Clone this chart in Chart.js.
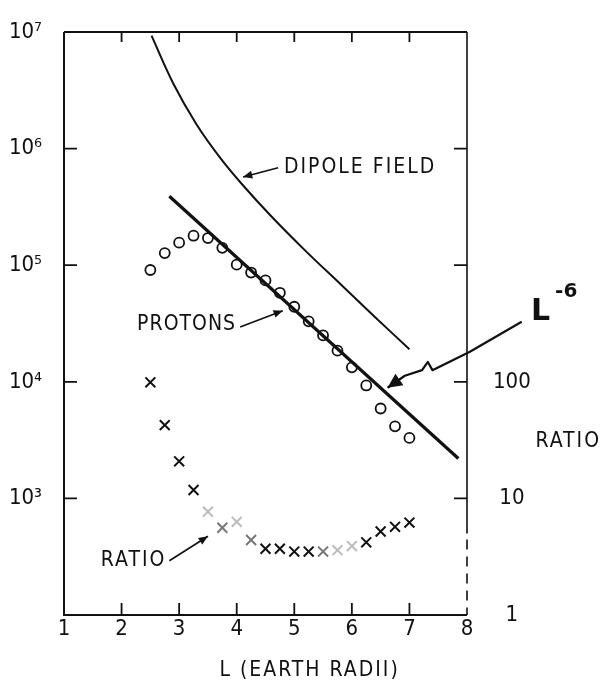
<!DOCTYPE html>
<html>
<head>
<meta charset="utf-8">
<script src="https://cdn.jsdelivr.net/npm/chart.js@4.4.1/dist/chart.umd.min.js"></script>
<style>
  html, body { margin: 0; padding: 0; background: #fff; }
</style>
</head>
<body>
<canvas id="grafico" width="608" height="688"></canvas>
<script>
// valores
const valoresL = [2.5, 2.75, 3, 3.25, 3.5, 3.75, 4, 4.25, 4.5, 4.75, 5, 5.25, 5.5, 5.75, 6, 6.25, 6.5, 6.75, 7];
const protons = [9.1e4, 1.27e5, 1.56e5, 1.79e5, 1.71e5, 1.41e5, 1.01e5, 8.65e4, 7.4e4, 5.8e4, 4.4e4, 3.3e4, 2.5e4, 1.85e4, 1.33e4, 9.3e3, 5.9e3, 4.15e3, 3.3e3];
const razao = [99, 42.5, 20.8, 11.8, 7.7, 5.6, 6.3, 4.4, 3.7, 3.7, 3.5, 3.5, 3.5, 3.6, 3.9, 4.2, 5.2, 5.7, 6.2];
const corRazao = ["#111", "#111", "#111", "#111", "#bbb", "#777", "#bbb", "#777", "#111", "#111", "#111", "#111", "#777", "#bbb", "#bbb", "#111", "#111", "#111", "#111"];

const dipoloL = [2.52, 2.9, 3.3, 3.7, 4.1, 4.6, 5.2, 5.8, 6.4, 7.0];
const dipolo = [9.3e6, 3.6e6, 1.62e6, 8.5e5, 4.9e5, 2.63e5, 1.32e5, 6.9e4, 3.6e4, 1.9e4];

const retaL = [2.83, 7.85];
const reta = [3.9e5, 2.2e3];

const ticksX = [1, 2, 3, 4, 5, 6, 7, 8];
const ticksEsq = [1e3, 1e4, 1e5, 1e6, 1e7];
const rotulosEsq = { 1000: "10\u00b3", 10000: "10\u2074", 100000: "10\u2075", 1000000: "10\u2076", 10000000: "10\u2077" };
const ticksDir = [1, 10, 100, 1e3, 1e4];
const rotulosDir = { 1: "1", 10: "10", 100: "100" };

const fonte = "'DejaVu Sans Condensed', 'Liberation Sans Narrow', 'DejaVu Sans', sans-serif";
const preto = "#111";

function pontos(xs, ys) {
  return xs.map((x, i) => ({ x: x, y: ys[i] }));
}

// moldura com marcas para dentro
const moldura = {
  id: "moldura",
  afterDraw(chart) {
    const { ctx, chartArea: a, scales } = chart;
    ctx.save();
    ctx.strokeStyle = preto;
    ctx.lineWidth = 2;
    ctx.beginPath();
    ctx.moveTo(a.left, a.top);
    ctx.lineTo(a.right, a.top);
    ctx.moveTo(a.left, a.top);
    ctx.lineTo(a.left, a.bottom);
    ctx.lineTo(a.right, a.bottom);
    ctx.stroke();

    // eixo direito, com falha perto da base
    const corte = scales.y2.getPixelForValue(5);
    ctx.lineWidth = 1.6;
    ctx.beginPath();
    ctx.moveTo(a.right, a.top);
    ctx.lineTo(a.right, corte);
    ctx.stroke();
    ctx.setLineDash([10, 7]);
    ctx.beginPath();
    ctx.moveTo(a.right, corte + 6);
    ctx.lineTo(a.right, a.bottom);
    ctx.stroke();
    ctx.setLineDash([]);

    ctx.lineWidth = 1.8;
    ctx.beginPath();
    ticksX.slice(1, -1).forEach((v) => {
      const px = scales.x.getPixelForValue(v);
      ctx.moveTo(px, a.top);
      ctx.lineTo(px, a.top + 10);
      ctx.moveTo(px, a.bottom);
      ctx.lineTo(px, a.bottom - 12);
    });
    ticksEsq.slice(0, -1).forEach((v) => {
      const py = scales.y.getPixelForValue(v);
      ctx.moveTo(a.left, py);
      ctx.lineTo(a.left + 13, py);
    });
    ticksDir.slice(1).forEach((v) => {
      const py = scales.y2.getPixelForValue(v);
      ctx.moveTo(a.right, py);
      ctx.lineTo(a.right - 13, py);
    });
    ctx.stroke();
    ctx.restore();
  },
};

// textos e setas, posicionados em unidades dos eixos (L, log10 do valor)
const notas = [
  { texto: "DIPOLE FIELD", L: 4.82, lg: 5.835 },
  { texto: "PROTONS", L: 2.27, lg: 4.49 },
  { texto: "RATIO", L: 1.64, lg: 2.47 },
  { texto: "RATIO", L: 9.19, lg: 3.49 },
  { texto: "L (EARTH RADII)", L: 3.7, lg: 1.52 },
];
const setas = [
  [[4.72, 5.835], [4.11, 5.757]],
  [[4.06, 4.47], [4.8, 4.61]],
  [[2.83, 2.465], [3.5, 2.675]],
  [[8.95, 4.515], [8.05, 4.258], [7.4, 4.1], [7.32, 4.17], [7.22, 4.1], [6.92, 4.052], [6.62, 3.949]],
];

const anotacoes = {
  id: "anotacoes",
  afterDraw(chart) {
    const { ctx, scales } = chart;
    const px = (L) => scales.x.getPixelForValue(L);
    const py = (lg) => scales.y.getPixelForValue(Math.pow(10, lg));
    ctx.save();
    ctx.fillStyle = preto;
    ctx.strokeStyle = preto;
    ctx.font = "21px " + fonte;
    ctx.textBaseline = "middle";
    ctx.textAlign = "left";
    notas.forEach((n) => {
      ctx.letterSpacing = n.texto === "PROTONS" ? "1px" : "2px";
      ctx.fillText(n.texto, px(n.L), py(n.lg));
    });

    setas.forEach((s, k) => {
      const p = s.map(([L, lg]) => [px(L), py(lg)]);
      ctx.lineWidth = k === 3 ? 2.2 : 1.6;
      ctx.lineJoin = "round";
      ctx.beginPath();
      ctx.moveTo(p[0][0], p[0][1]);
      p.slice(1).forEach(([x, y]) => ctx.lineTo(x, y));
      ctx.stroke();
      const [x1, y1] = p[p.length - 2];
      const [x2, y2] = p[p.length - 1];
      const ang = Math.atan2(y2 - y1, x2 - x1);
      const tam = k === 3 ? 16 : 10;
      const abre = k === 3 ? 0.45 : 0.4;
      ctx.beginPath();
      ctx.moveTo(x2, y2);
      ctx.lineTo(x2 - tam * Math.cos(ang - abre), y2 - tam * Math.sin(ang - abre));
      ctx.lineTo(x2 - tam * Math.cos(ang + abre), y2 - tam * Math.sin(ang + abre));
      ctx.closePath();
      ctx.fill();
    });

    // L^-6 escrito a mão
    ctx.letterSpacing = "0px";
    ctx.font = "bold 30px 'DejaVu Sans', sans-serif";
    ctx.fillText("L", px(9.11), py(4.6));
    ctx.font = "bold 20px 'DejaVu Sans', sans-serif";
    ctx.fillText("-6", px(9.53), py(4.77));
    ctx.restore();
  },
};

new Chart(document.getElementById("grafico"), {
  type: "scatter",
  data: {
    datasets: [
      {
        label: "Dipole field",
        data: pontos(dipoloL, dipolo),
        showLine: true,
        borderColor: preto,
        borderWidth: 2,
        pointRadius: 0,
        tension: 0.4,
        yAxisID: "y",
      },
      {
        label: "L^-6",
        data: pontos(retaL, reta),
        showLine: true,
        borderColor: preto,
        borderWidth: 3.2,
        pointRadius: 0,
        yAxisID: "y",
      },
      {
        label: "Protons",
        data: pontos(valoresL, protons),
        pointStyle: "circle",
        pointRadius: 5,
        pointBorderWidth: 1.8,
        borderColor: preto,
        backgroundColor: "rgba(0,0,0,0)",
        yAxisID: "y",
      },
      {
        label: "Ratio",
        data: pontos(valoresL, razao),
        pointStyle: "crossRot",
        pointRadius: 7,
        pointBorderWidth: 2,
        pointBorderColor: corRazao,
        borderColor: preto,
        yAxisID: "y2",
      },
    ],
  },
  options: {
    responsive: false,
    animation: false,
    devicePixelRatio: 1,
    layout: { padding: { top: 32, left: 0, right: 0, bottom: 0 } },
    plugins: {
      legend: { display: false },
      tooltip: { enabled: false },
    },
    scales: {
      x: {
        type: "linear",
        min: 1,
        max: 8,
        grid: { display: false },
        border: { display: false },
        afterBuildTicks: (s) => { s.ticks = ticksX.map((v) => ({ value: v })); },
        afterFit: (s) => { s.height = 73; },
        ticks: {
          color: preto,
          padding: -7,
          font: { family: fonte, size: 22 },
          maxRotation: 0,
        },
      },
      y: {
        type: "logarithmic",
        position: "left",
        min: 100,
        max: 1e7,
        grid: { display: false },
        border: { display: false },
        afterBuildTicks: (s) => { s.ticks = ticksEsq.map((v) => ({ value: v })); },
        afterFit: (s) => { s.width = 64; },
        ticks: {
          color: preto,
          padding: 14,
          font: { family: fonte, size: 22 },
          callback: (v) => rotulosEsq[v] || "",
        },
      },
      y2: {
        type: "logarithmic",
        position: "right",
        min: 1,
        max: 1e5,
        grid: { display: false },
        border: { display: false },
        afterBuildTicks: (s) => { s.ticks = ticksDir.map((v) => ({ value: v })); },
        afterFit: (s) => { s.width = 141; },
        ticks: {
          color: preto,
          padding: 18,
          crossAlign: "center",
          font: { family: fonte, size: 22 },
          callback: (v) => rotulosDir[v] || "",
        },
      },
    },
  },
  plugins: [moldura, anotacoes],
});
</script>
</body>
</html>
